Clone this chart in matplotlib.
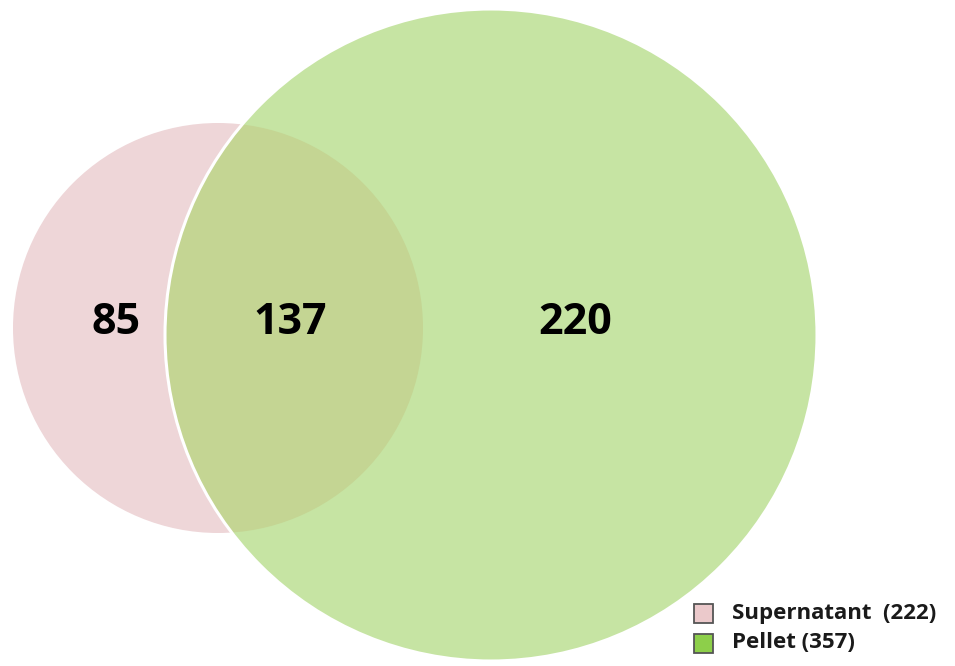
import matplotlib
matplotlib.use("Agg")
import matplotlib.pyplot as plt
from matplotlib.patches import Circle, Rectangle

# ---- data ----
set_names = ["Supernatant", "Pellet"]
set_totals = [222, 357]
region_labels = ["85", "137", "220"]   # only supernatant, shared, only pellet
region_counts = [85, 137, 220]

# ---- layout (pixels) ----
W, H = 955, 666
pink_c, pink_r = (218, 328), 205
green_c, green_r = (491, 335), 326
pink_col = "#EED6D8"
green_col = "#C6E4A3"
overlap_col = "#C4D593"

fig = plt.figure(figsize=(W / 100, H / 100), dpi=100)
ax = fig.add_axes([0, 0, 1, 1])
ax.set_xlim(0, W)
ax.set_ylim(H, 0)
ax.set_aspect("equal")
ax.axis("off")

pink = Circle(pink_c, pink_r, facecolor=pink_col, edgecolor="none", zorder=1)
ax.add_patch(pink)
green = Circle(green_c, green_r, facecolor=green_col, edgecolor="none", zorder=2)
ax.add_patch(green)
ov = Circle(green_c, green_r, facecolor=overlap_col, edgecolor="none", zorder=3)
ax.add_patch(ov)
ov.set_clip_path(Circle(pink_c, pink_r, transform=ax.transData))
edge = Circle(green_c, green_r, facecolor="none", edgecolor="white", lw=2.2, zorder=4)
ax.add_patch(edge)

font = ["Open Sans", "DejaVu Sans"]
text_pos = [(116, 323), (290, 323), (575, 323)]
for (x, y), lab in zip(text_pos, region_labels):
    ax.text(x, y, lab, ha="center", va="center", fontsize=31, fontweight="bold",
            family=font, color="black", zorder=5)

# legend
leg_y = [613, 643]
leg_cols = ["#EBC9CB", "#8DCF4A"]
leg_texts = [f"{set_names[0]}  ({set_totals[0]})", f"{set_names[1]} ({set_totals[1]})"]
for y, c, t in zip(leg_y, leg_cols, leg_texts):
    ax.add_patch(Rectangle((694, y - 9.5), 19, 19, facecolor=c, edgecolor="#555555",
                           lw=1.3, zorder=6))
    ax.text(732, y, t, ha="left", va="center", fontsize=16, fontweight="bold",
            family=font, color="#1a1a1a", zorder=6)

fig.savefig("out.png", dpi=100, facecolor="white")
